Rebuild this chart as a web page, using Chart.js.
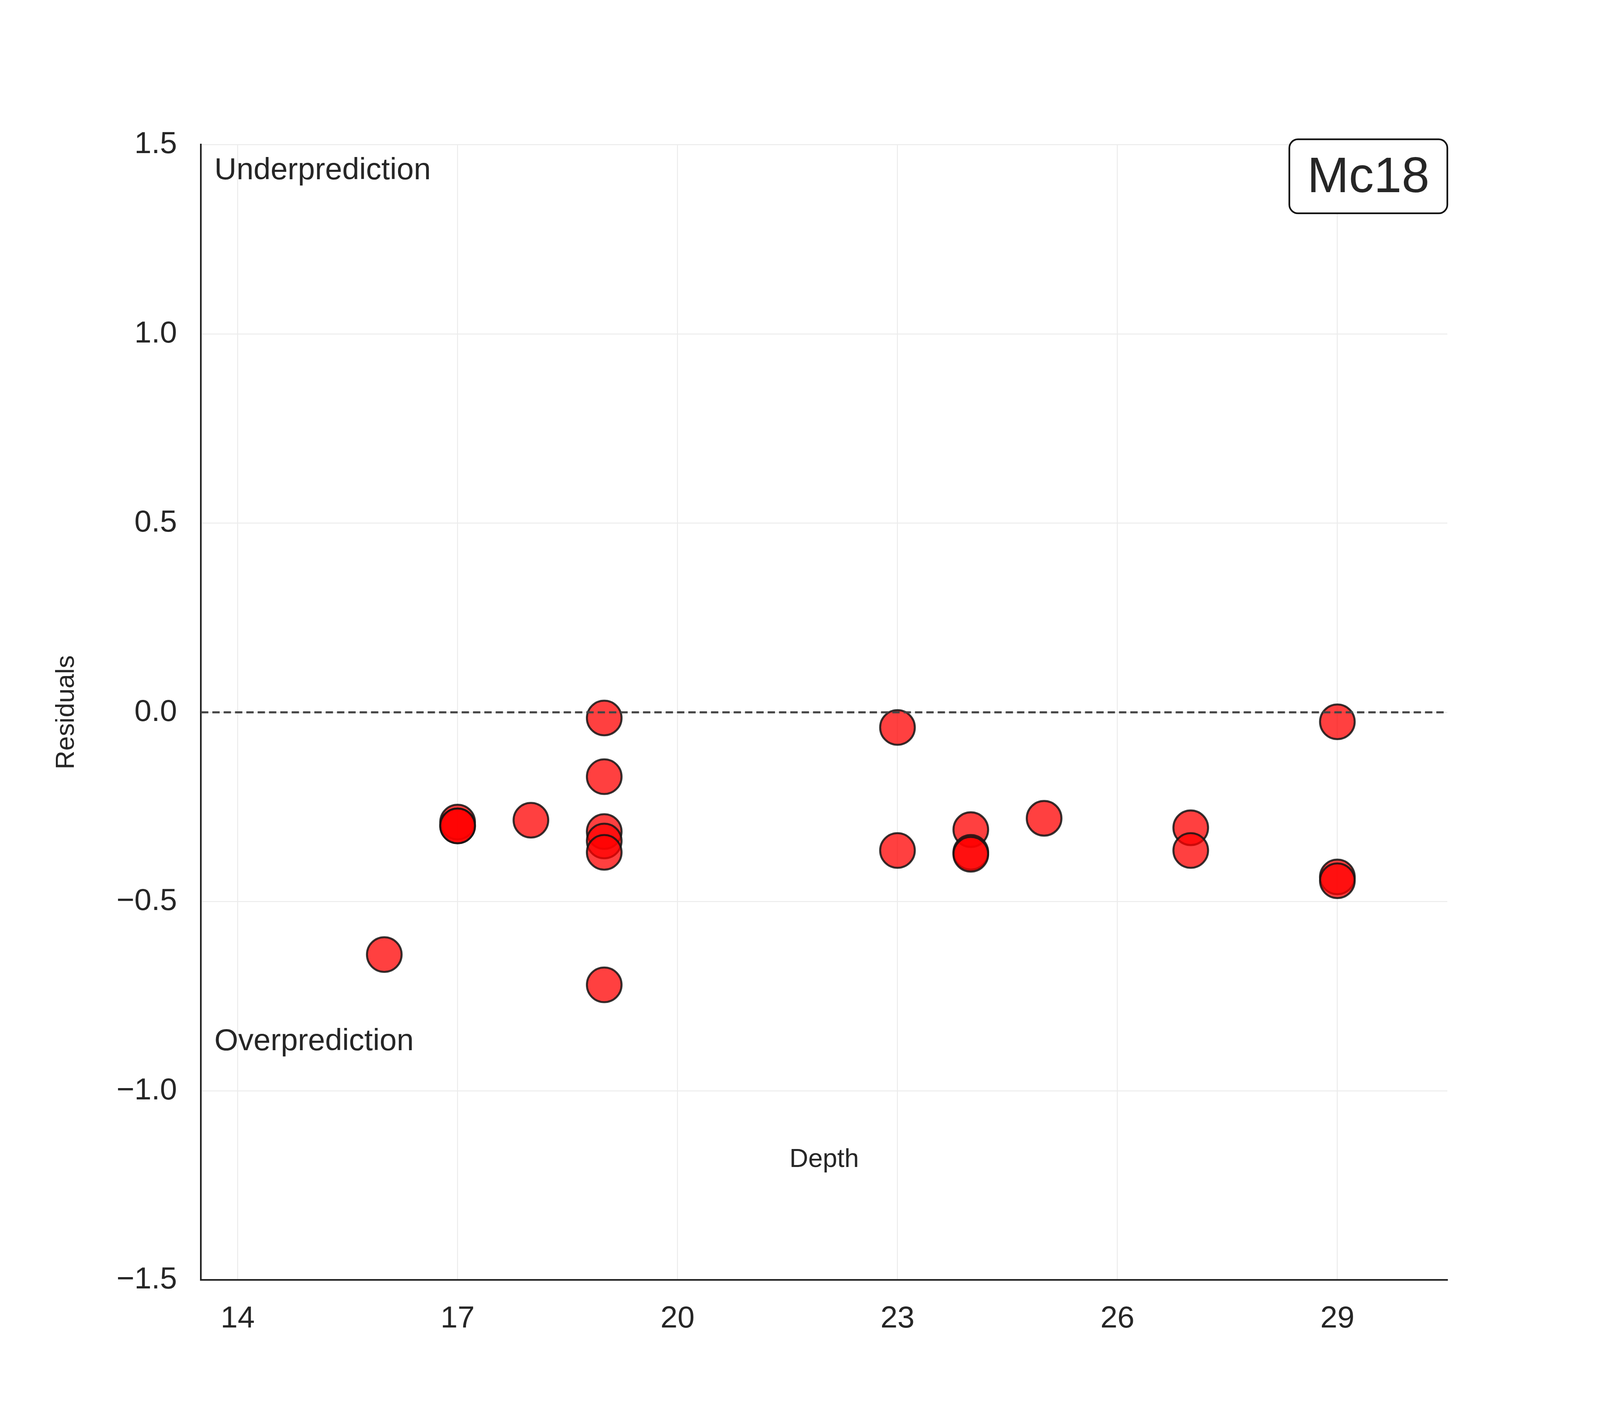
<!DOCTYPE html>
<html>
<head>
<meta charset="utf-8">
<script src="https://cdn.jsdelivr.net/npm/chart.js@4/dist/chart.umd.min.js"></script>
<style>
  html, body { margin: 0; padding: 0; background: #fff; overflow: hidden; }
  #wrap { width: 100vw; height: 100vh; position: relative; }
</style>
</head>
<body>
<div id="wrap"><canvas id="c"></canvas></div>
<script>
// residuals vs depth
const depths =    [16,    17,    17,    17,    18,     19,     19,    19,     19,    19,    19,    23,    23,     24,    24,    24,     25,    27,     27,     29,     29,     29];
const residuals = [-0.64, -0.29, -0.30, -0.30, -0.285, -0.015, -0.17, -0.315, -0.34, -0.37, -0.72, -0.04, -0.365, -0.31, -0.37, -0.375, -0.28, -0.305, -0.365, -0.025, -0.435, -0.445];
const xTicks = [14, 17, 20, 23, 26, 29];
const yTicks = [-1.5, -1.0, -0.5, 0.0, 0.5, 1.0, 1.5];
const modelName = "Mc18";

const FONT = "Arial, 'Liberation Sans', sans-serif";
const fmt = v => v.toFixed(1).replace("-", "\u2212");
// layout was measured on a 4800px wide picture; scale to the real viewport
const S = window.innerWidth / 4800;

const overlay = {
  id: "overlay",
  afterDatasetsDraw(chart) {
    const ctx = chart.ctx, a = chart.chartArea, y = chart.scales.y;
    ctx.save();
    ctx.strokeStyle = "#444";
    ctx.lineWidth = 6 * S;
    ctx.setLineDash([22 * S, 12 * S]);
    ctx.beginPath();
    ctx.moveTo(a.left, y.getPixelForValue(0));
    ctx.lineTo(a.right, y.getPixelForValue(0));
    ctx.stroke();
    ctx.setLineDash([]);
    ctx.fillStyle = "#262626";
    ctx.font = (78 * S) + "px " + FONT;
    ctx.textAlign = "center";
    ctx.textBaseline = "middle";
    ctx.save();
    ctx.translate(200 * S, (a.top + a.bottom) / 2);
    ctx.rotate(-Math.PI / 2);
    ctx.fillText("Residuals", 0, 0);
    ctx.restore();
    ctx.fillText("Depth", (a.left + a.right) / 2, 3480 * S);
    ctx.font = (92 * S) + "px " + FONT;
    ctx.textAlign = "left";
    ctx.fillText("Underprediction", 643 * S, 512 * S);
    ctx.fillText("Overprediction", 643 * S, 3126 * S);
    ctx.restore();
  },
  afterDraw(chart) {
    const ctx = chart.ctx;
    ctx.save();
    const x0 = 3868 * S, y0 = 418 * S, w = 474 * S, h = 222 * S, r = 26 * S;
    ctx.beginPath();
    ctx.roundRect(x0, y0, w, h, r);
    ctx.fillStyle = "#fff";
    ctx.fill();
    ctx.strokeStyle = "#111";
    ctx.lineWidth = 5 * S;
    ctx.stroke();
    ctx.fillStyle = "#262626";
    ctx.font = (150 * S) + "px " + FONT;
    ctx.textAlign = "center";
    ctx.textBaseline = "middle";
    ctx.fillText(modelName, x0 + w / 2, y0 + h / 2 + 6 * S);
    ctx.restore();
  }
};

new Chart(document.getElementById("c"), {
  type: "scatter",
  data: {
    datasets: [{
      data: depths.map((d, i) => ({ x: d, y: residuals[i] })),
      backgroundColor: "rgba(255,0,0,0.75)",
      borderColor: "rgba(20,20,20,0.85)",
      borderWidth: 6 * S,
      pointRadius: 52 * S,
      pointHoverRadius: 52 * S
    }]
  },
  options: {
    responsive: true,
    maintainAspectRatio: false,
    animation: false,
    layout: { padding: { left: 0, top: 434 * S, right: 458 * S, bottom: 0 } },
    plugins: { legend: { display: false }, tooltip: { enabled: false } },
    scales: {
      x: {
        type: "linear", min: 13.5, max: 30.5,
        afterBuildTicks: s => { s.ticks = xTicks.map(v => ({ value: v })); },
        afterFit: s => { s.height = 378 * S; },
        grid: { color: "#ececec", lineWidth: 3 * S, drawTicks: false },
        border: { color: "#222", width: 5 * S },
        ticks: { color: "#262626", padding: 62 * S, font: { size: 92 * S, family: FONT }, callback: v => String(v) }
      },
      y: {
        type: "linear", min: -1.5, max: 1.5,
        afterBuildTicks: s => { s.ticks = yTicks.map(v => ({ value: v })); },
        afterFit: s => { s.width = 603 * S; },
        grid: { color: "#ececec", lineWidth: 3 * S, drawTicks: false },
        border: { color: "#222", width: 5 * S },
        ticks: { color: "#262626", padding: 72 * S, font: { size: 92 * S, family: FONT }, callback: v => fmt(v) }
      }
    }
  },
  plugins: [overlay]
});
</script>
</body>
</html>
